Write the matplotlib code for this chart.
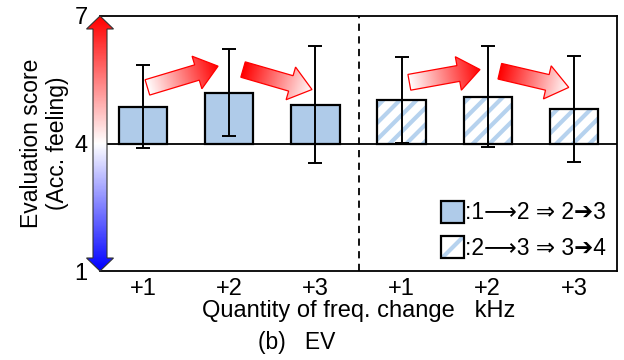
import numpy as np
import matplotlib
matplotlib.use("Agg")
import matplotlib.pyplot as plt
from matplotlib.patches import Polygon, Patch
from matplotlib.colors import LinearSegmentedColormap

plt.rcParams['font.family'] = ['Liberation Sans', 'DejaVu Sans']
plt.rcParams['hatch.linewidth'] = 3.0

# data
tick_labels = ['+1', '+2', '+3', '+1', '+2', '+3']
means = [4.87, 5.20, 4.91, 5.03, 5.10, 4.82]
errs = [0.98, 1.02, 1.38, 1.01, 1.19, 1.25]
hatched = [False, False, False, True, True, True]
legend_labels = [':1\u27f62 \u21d2 2\u27943', ':2\u27f63 \u21d2 3\u27944']

# trend arrows (tail x, tail y, tip x, tip y, rising?)
trend = [(0.05, 5.32, 0.87, 5.82, True),
         (1.16, 5.74, 1.96, 5.27, False),
         (3.09, 5.44, 3.91, 5.74, True),
         (4.14, 5.70, 4.94, 5.32, False)]

bar_blue = '#afcbe9'
hatch_blue = '#b6d2ee'

fig = plt.figure(figsize=(6.24, 3.6), dpi=100)
ax = fig.add_axes([100 / 624, 89 / 360, 517 / 624, 255 / 360])
ax.set_xlim(-0.5, 5.5)
ax.set_ylim(1, 7)
ax.set_autoscale_on(False)

x = np.arange(len(means))
w = 0.56
for i in x:
    h = means[i] - 4
    if hatched[i]:
        ax.bar(i, h, w, bottom=4, color='white', edgecolor=hatch_blue,
               hatch='//', lw=0, zorder=2)
        ax.bar(i, h, w, bottom=4, fill=False, edgecolor='black', lw=1.6, zorder=3)
    else:
        ax.bar(i, h, w, bottom=4, color=bar_blue, edgecolor='black', lw=1.6, zorder=3)
ax.errorbar(x, means, yerr=errs, fmt='none', ecolor='black', elinewidth=1.4,
            capsize=5, capthick=1.4, zorder=4)

ax.axhline(4, color='black', lw=1.3, zorder=1)
ax.axvline(2.5, color='black', lw=1.3, ls=(0, (4, 3)), zorder=1)

for s in ['top', 'right', 'bottom']:
    ax.spines[s].set_linewidth(1.3)
ax.spines['left'].set_visible(False)


def gradient_fill(poly_pts, tfunc, cmap, z, edge, lw, unclip=False):
    poly = Polygon(poly_pts, closed=True, fc='none', ec=edge, lw=lw, zorder=z + 1,
                   clip_on=not unclip)
    ax.add_patch(poly)
    x0, y0 = poly_pts.min(0)
    x1, y1 = poly_pts.max(0)
    gx, gy = np.meshgrid(np.linspace(x0, x1, 300), np.linspace(y0, y1, 300))
    t = tfunc(gx, gy)
    im = ax.imshow(t, cmap=cmap, vmin=0, vmax=1, extent=(x0, x1, y0, y1),
                   origin='lower', aspect='auto', zorder=z, interpolation='bilinear')
    if unclip:
        im.set_clip_box(fig.bbox)
    im.set_clip_path(poly)


def block_arrow(p0, p1, rising, shaft=16, head_w=34, head_l=22):
    T = ax.transData
    a = T.transform(p0)
    b = T.transform(p1)
    d = b - a
    L = np.hypot(*d)
    u = d / L
    n = np.array([-u[1], u[0]])
    hb = b - u * head_l
    pts = np.array([a + n * shaft / 2, hb + n * shaft / 2, hb + n * head_w / 2, b,
                    hb - n * head_w / 2, hb - n * shaft / 2, a - n * shaft / 2])
    dpts = T.inverted().transform(pts)
    cm = LinearSegmentedColormap.from_list('r', ['white', 'red'] if rising else ['red', 'white'])

    def tf(gx, gy):
        disp = T.transform(np.column_stack([gx.ravel(), gy.ravel()]))
        t = ((disp - a) @ u) / L
        return np.clip(t, 0, 1).reshape(gx.shape)
    gradient_fill(dpts, tf, cm, 5, 'red', 0.9)


for x0, y0, x1, y1, up in trend:
    block_arrow((x0, y0), (x1, y1), up)

# score axis arrow: blue (1) -> white (4) -> red (7)
T = ax.transData
top = T.transform((-0.5, 7))
bot = T.transform((-0.5, 1))
cx = top[0]
sh, hw, hl = 7, 13.5, 13
apts = np.array([(cx, top[1]), (cx + hw, top[1] - hl), (cx + sh, top[1] - hl),
                 (cx + sh, bot[1] + hl), (cx + hw, bot[1] + hl), (cx, bot[1]),
                 (cx - hw, bot[1] + hl), (cx - sh, bot[1] + hl), (cx - sh, top[1] - hl),
                 (cx - hw, top[1] - hl)])
apts = T.inverted().transform(apts)
axis_cmap = LinearSegmentedColormap.from_list('bwr2', ['#0000ff', 'white', '#ff0000'])
gradient_fill(apts, lambda gx, gy: (gy - 1) / 6, axis_cmap, 6, '#333333', 0.8, unclip=True)

ax.set_xticks(x)
ax.set_xticklabels(tick_labels, fontsize=17)
ax.set_yticks([1, 4, 7])
ax.set_yticklabels(['1', '4', '7'], fontsize=17)
ax.tick_params(axis='both', length=0)
ax.tick_params(axis='x', pad=5)
ax.tick_params(axis='y', pad=9)
ax.set_xlabel('Quantity of freq. change   kHz', fontsize=17, labelpad=0)
ax.set_ylabel('Evaluation score\n(Acc. feeling)', fontsize=16.5, labelpad=4, linespacing=1.15)
fig.text(297 / 624, 1 - 343 / 360, '(b)   EV', fontsize=16.5, ha='center', va='center')

handles = [Patch(facecolor=bar_blue, edgecolor='black', lw=1.6),
           (Patch(facecolor='white', edgecolor=hatch_blue, hatch='/', lw=0),
            Patch(fill=False, edgecolor='black', lw=1.6))]
ax.legend(handles, legend_labels, loc='lower right', frameon=False, fontsize=16.5,
          handlelength=1.0, handleheight=1.1, handletextpad=0.05, labelspacing=0.5,
          borderaxespad=0.2, borderpad=0.3)

fig.savefig('out.png', dpi=100)
